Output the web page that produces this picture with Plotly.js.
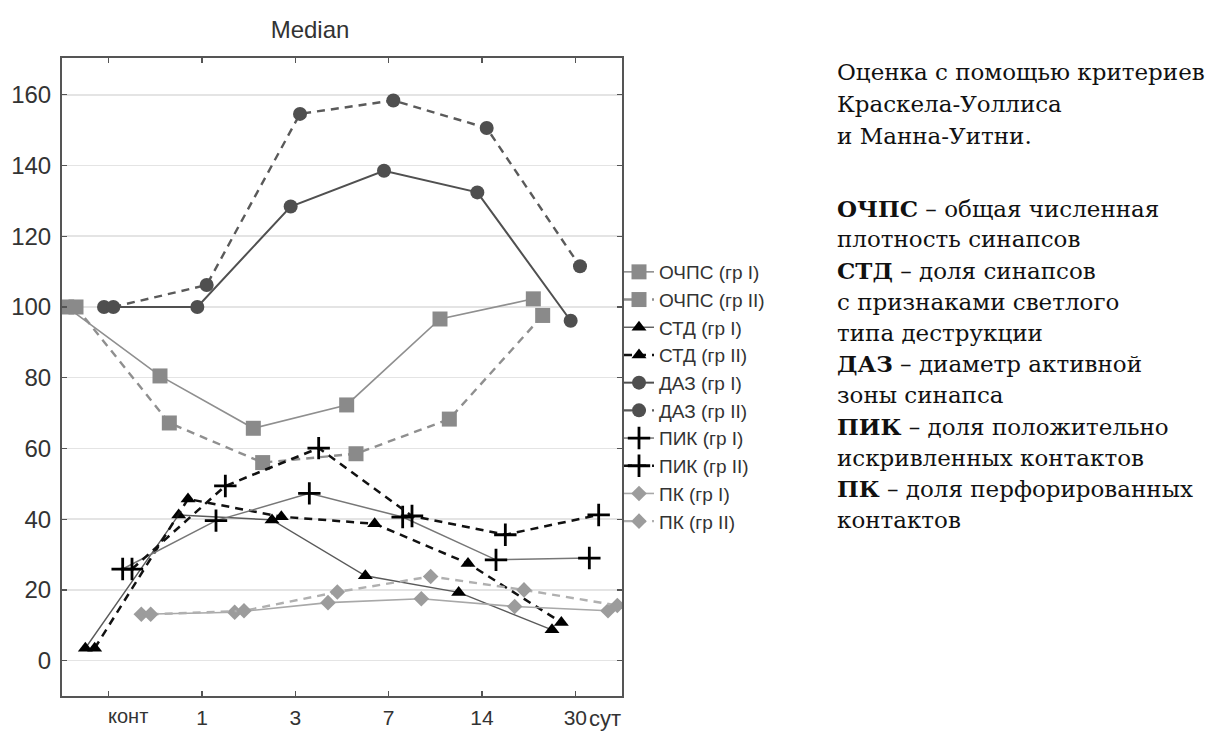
<!DOCTYPE html>
<html>
<head>
<meta charset="utf-8">
<script src="https://cdn.plot.ly/plotly-3.0.1.min.js"></script>
<style>
  html, body { margin: 0; padding: 0; background: #ffffff; }
  #chart { width: 1213px; height: 733px; }
</style>
</head>
<body>
<div id="chart"></div>
<script>
// ---- data ----
const categories = ['конт', '1', '3', '7', '14', '30'];
const seriesNames = ['ОЧПС (гр I)', 'ОЧПС (гр II)', 'СТД (гр I)', 'СТД (гр II)', 'ДАЗ (гр I)', 'ДАЗ (гр II)', 'ПИК (гр I)', 'ПИК (гр II)', 'ПК (гр I)', 'ПК (гр II)'];
const ochps1 = [100, 80.5, 65.7, 72.3, 96.6, 102.3];
const ochps2 = [100, 67.2, 56.0, 58.5, 68.3, 97.6];
const std1   = [3.5, 41.2, 39.8, 24.0, 19.3, 8.7];
const std2   = [3.5, 45.7, 40.7, 38.7, 27.5, 10.8];
const daz1   = [100, 100, 128.4, 138.5, 132.4, 96.1];
const daz2   = [100, 106.2, 154.6, 158.4, 150.6, 111.5];
const pik1   = [25.9, 39.6, 47.3, 40.6, 28.5, 29.0];
const pik2   = [25.9, 49.4, 60.1, 40.9, 35.6, 41.2];
const pk1    = [13.1, 13.7, 16.4, 17.5, 15.3, 14.1];
const pk2    = [13.1, 14.1, 19.4, 23.8, 20.0, 15.6];
const yTicks = [0, 20, 40, 60, 80, 100, 120, 140, 160];
const unitLabel = 'сут';
const chartTitle = 'Median';
const noteHead = ['Оценка с помощью критериев', 'Краскела-Уоллиса', 'и Манна-Уитни.'];
const noteAbbr = ['ОЧПС', '', 'СТД', '', '', 'ДАЗ', '', 'ПИК', '', 'ПК', ''];
const noteBody = [' – общая численная', 'плотность синапсов', ' – доля синапсов', 'с признаками светлого', 'типа деструкции', ' – диаметр активной', 'зоны синапса', ' – доля положительно', 'искривленных контактов', ' – доля перфорированных', 'контактов'];

// ---- styles ----
const values = [ochps1, ochps2, std1, std2, daz1, daz2, pik1, pik2, pk1, pk2];
const styles = [
  {sym: 'square',     msize: 15, mcol: '#8a8a8a', lcol: '#8f8f8f', lw: 1.6, dash: 'solid'},
  {sym: 'square',     msize: 15, mcol: '#8a8a8a', lcol: '#8f8f8f', lw: 2.4, dash: '8px,6px'},
  {sym: 'triangle-up',msize: 13, mcol: '#000000', lcol: '#5a5a5a', lw: 1.4, dash: 'solid'},
  {sym: 'triangle-up',msize: 13, mcol: '#000000', lcol: '#111111', lw: 2.5, dash: '8px,6px'},
  {sym: 'circle',     msize: 14, mcol: '#4f4f4f', lcol: '#505050', lw: 2.0, dash: 'solid'},
  {sym: 'circle',     msize: 14, mcol: '#4f4f4f', lcol: '#5a5a5a', lw: 2.4, dash: '8px,6px'},
  {sym: 'cross-thin', msize: 16, mcol: '#000000', lcol: '#777777', lw: 1.5, dash: 'solid'},
  {sym: 'cross-thin', msize: 16, mcol: '#000000', lcol: '#111111', lw: 2.5, dash: '8px,6px'},
  {sym: 'diamond',    msize: 12, mcol: '#9c9c9c', lcol: '#a8a8a8', lw: 1.6, dash: 'solid'},
  {sym: 'diamond',    msize: 12, mcol: '#9c9c9c', lcol: '#b0b0b0', lw: 2.4, dash: '8px,6px'}
];
const nSeries = values.length;
const groupWidth = 0.1; // horizontal offset between series inside a category

const traces = values.map((vals, k) => {
  const st = styles[k];
  const isCross = st.sym === 'cross-thin';
  return {
    type: 'scatter',
    mode: 'lines+markers',
    name: seriesNames[k],
    x: vals.map((v, i) => i + (k - (nSeries - 1) / 2) * groupWidth),
    y: vals,
    line: {color: st.lcol, width: st.lw, dash: st.dash},
    marker: {
      symbol: st.sym, size: st.msize, color: st.mcol,
      line: isCross ? {color: st.mcol, width: 2.8} : {width: 0}
    },
    hoverinfo: 'x+y+name'
  };
});

const W = 1213, H = 733;
const mL = 62, mR = 591, mT = 58, mB = 37;
const pw = W - mL - mR, ph = H - mT - mB;
const px2paperX = px => (px - mL) / pw;
const py2paperY = py => (H - mB - py) / ph;
const sans = 'Liberation Sans, Arial, sans-serif';

const annotations = [];
// category label "конт" sits right of its tick in the original
annotations.push({xref: 'x', yref: 'paper', x: 0.21, y: py2paperY(716), text: categories[0], showarrow: false,
  xanchor: 'center', yanchor: 'middle', font: {family: sans, size: 20, color: '#333'}});
annotations.push({xref: 'paper', yref: 'paper', x: px2paperX(587), y: py2paperY(718), text: unitLabel, showarrow: false,
  xanchor: 'left', yanchor: 'middle', font: {family: sans, size: 22, color: '#333'}});

// right-hand note
const noteX = px2paperX(835);
const noteFont = {family: 'DejaVu Serif', size: 23, color: '#111'};
noteHead.forEach((t, i) => {
  annotations.push({xref: 'paper', yref: 'paper', x: noteX, y: py2paperY(72 + i * 32), text: t, showarrow: false,
    xanchor: 'left', yanchor: 'middle', align: 'left', font: noteFont});
});
noteBody.forEach((t, i) => {
  const txt = noteAbbr[i] ? '<b>' + noteAbbr[i] + '</b>' + t : t;
  annotations.push({xref: 'paper', yref: 'paper', x: noteX, y: py2paperY(208 + i * 31.2), text: txt, showarrow: false,
    xanchor: 'left', yanchor: 'middle', align: 'left', font: noteFont});
});

const layout = {
  width: W, height: H,
  margin: {l: mL, r: mR, t: mT, b: mB, pad: 0},
  paper_bgcolor: '#ffffff', plot_bgcolor: '#ffffff',
  font: {family: sans, color: '#333'},
  title: {text: chartTitle, font: {family: sans, size: 24, color: '#333'},
    xref: 'paper', x: px2paperX(310), xanchor: 'center', yref: 'container', y: 1 - 30 / H, yanchor: 'middle'},
  xaxis: {
    range: [-0.5, 5.5], tickmode: 'array', tickvals: [0, 1, 2, 3, 4, 5], ticktext: ['', '1', '3', '7', '14', '30'],
    ticks: 'inside', ticklen: 5, tickcolor: '#555', tickwidth: 1.2,
    showline: true, linecolor: '#555', linewidth: 2, mirror: 'ticks',
    showgrid: false, zeroline: false, ticklabelstandoff: 2,
    tickfont: {family: sans, size: 21, color: '#333'}
  },
  yaxis: {
    range: [-10, 170.4], tickmode: 'array', tickvals: yTicks,
    ticks: 'inside', ticklen: 5, tickcolor: '#555', tickwidth: 1.2,
    showline: true, linecolor: '#555', linewidth: 2, mirror: 'ticks',
    showgrid: true, gridcolor: '#e4e4e4', gridwidth: 1.5, zeroline: false, ticklabelstandoff: 4,
    tickfont: {family: sans, size: 24, color: '#333'}
  },
  legend: {
    x: px2paperX(619), xanchor: 'left', y: py2paperY(253), yanchor: 'top',
    bgcolor: 'rgba(0,0,0,0)', borderwidth: 0, itemwidth: 30,
    font: {family: sans, size: 19, color: '#333'},
    traceorder: 'normal'
  },
  showlegend: true,
  annotations: annotations
};

Plotly.newPlot('chart', traces, layout, {displayModeBar: false, staticPlot: true});
</script>
</body>
</html>
